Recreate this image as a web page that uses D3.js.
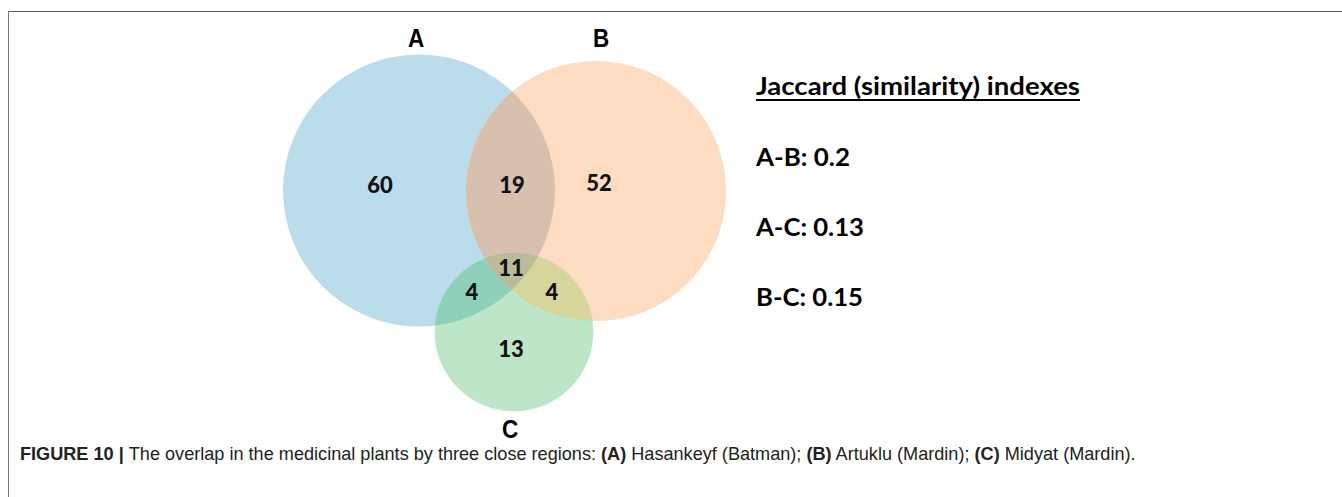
<!DOCTYPE html>
<html>
<head>
<meta charset="utf-8">
<script src="https://cdn.jsdelivr.net/npm/d3@7"></script>
<style>
  html, body { margin: 0; padding: 0; background: #fff; }
  svg { display: block; }
</style>
</head>
<body>
<svg id="chart" width="1342" height="497"></svg>
<script>
// ---- data ----
const setNames = ["A", "B", "C"];
const regionKeys = ["A", "B", "C", "AB", "AC", "BC", "ABC"];
const regionValues = [60, 52, 13, 19, 4, 4, 11];
const jaccardLabels = ["A-B: 0.2", "A-C: 0.13", "B-C: 0.15"];
const titleText = "Jaccard (similarity) indexes";

// ---- derived set totals ----
const regionMap = Object.fromEntries(regionKeys.map((k, i) => [k, regionValues[i]]));
const totals = setNames.map(s => d3.sum(regionKeys.filter(k => k.includes(s)), k => regionMap[k]));

// ---- layout ----
const svg = d3.select("#chart");
const rScale = d3.scaleSqrt().domain([0, d3.max(totals)]).range([0, 136]);
const centers = { A: [419, 190.5], B: [596, 191], C: [514, 332] };
const baseColors = { A: "#bbdcea", B: "#fedcc2", C: "#bde6c9" };
const overlapColors = { AB: "#d7c0ae", AC: "#8fd0ba", BC: "#d6d59c", ABC: "#b9bb99" };
const circles = setNames.map((s, i) => ({ key: s, cx: centers[s][0], cy: centers[s][1], r: rScale(totals[i]) }));
const byKey = Object.fromEntries(circles.map(c => [c.key, c]));

// frame
svg.append("line").attr("x1", 8).attr("x2", 1342).attr("y1", 11.5).attr("y2", 11.5)
  .attr("stroke", "#555").attr("stroke-width", 1.2);
svg.append("line").attr("x1", 8.5).attr("x2", 8.5).attr("y1", 11).attr("y2", 497)
  .attr("stroke", "#777").attr("stroke-width", 1);

const defs = svg.append("defs");
circles.forEach(c => {
  defs.append("clipPath").attr("id", "clip" + c.key)
    .append("circle").attr("cx", c.cx).attr("cy", c.cy).attr("r", c.r);
});

const g = svg.append("g");
g.selectAll("circle.base").data(circles).join("circle")
  .attr("class", "base")
  .attr("cx", d => d.cx).attr("cy", d => d.cy).attr("r", d => d.r)
  .attr("fill", d => baseColors[d.key]);

function overlap(drawKey, clipKeys, color) {
  let parent = g;
  clipKeys.forEach(k => { parent = parent.append("g").attr("clip-path", `url(#clip${k})`); });
  const c = byKey[drawKey];
  parent.append("circle").attr("cx", c.cx).attr("cy", c.cy).attr("r", c.r).attr("fill", color);
}
overlap("B", ["A"], overlapColors.AB);
overlap("C", ["A"], overlapColors.AC);
overlap("C", ["B"], overlapColors.BC);
overlap("C", ["A", "B"], overlapColors.ABC);

// region labels
const labelPos = { A: [380, 184], B: [599, 182], C: [511, 348], AB: [512, 184], AC: [472, 291], BC: [552, 291], ABC: [511, 267] };
g.selectAll("text.val").data(regionKeys).join("text")
  .attr("class", "val")
  .attr("x", k => labelPos[k][0]).attr("y", k => labelPos[k][1])
  .attr("text-anchor", "middle").attr("dominant-baseline", "central")
  .attr("font-family", "Lato, 'Open Sans', sans-serif").attr("font-weight", 900)
  .attr("font-size", 22).attr("fill", "#111")
  .text(k => regionMap[k]);

// set name labels
const namePos = { A: [416, 47], B: [601, 47], C: [510, 438] };
svg.selectAll("text.name").data(setNames).join("text")
  .attr("class", "name")
  .attr("transform", s => `translate(${namePos[s][0]},${namePos[s][1]}) scale(0.9,1)`)
  .attr("text-anchor", "middle")
  .attr("font-family", "'Liberation Sans', Arial, sans-serif").attr("font-weight", 700)
  .attr("font-size", 25).attr("fill", "#000")
  .text(s => s);

// Jaccard block
function fitText(sel, target) {
  sel.attr("textLength", target).attr("lengthAdjust", "spacingAndGlyphs");
}
const title = svg.append("text").attr("x", 756).attr("y", 95)
  .attr("font-family", "Lato, 'Open Sans', sans-serif").attr("font-weight", 700)
  .attr("font-size", 25).attr("fill", "#000").text(titleText);
fitText(title, 324);
svg.append("line").attr("x1", 756).attr("x2", 1080).attr("y1", 100).attr("y2", 100)
  .attr("stroke", "#000").attr("stroke-width", 2);

const jWidths = [94, 108, 107];
const jY = [166, 236, 306];
jaccardLabels.forEach((t, i) => {
  const s = svg.append("text").attr("x", 756).attr("y", jY[i])
    .attr("font-family", "Lato, 'Open Sans', sans-serif").attr("font-weight", 700)
    .attr("font-size", 25).attr("fill", "#000").text(t);
  fitText(s, jWidths[i]);
});

// caption
const cap = svg.append("text").attr("x", 0).attr("y", 0)
  .attr("font-family", "'Liberation Sans', Arial, sans-serif").attr("font-size", 18).attr("fill", "#222");
const parts = [
  ["FIGURE 10 | ", 700], ["The overlap in the medicinal plants by three close regions: ", 400],
  ["(A)", 700], [" Hasankeyf (Batman); ", 400], ["(B)", 700], [" Artuklu (Mardin); ", 400],
  ["(C)", 700], [" Midyat (Mardin).", 400]
];
parts.forEach(([t, w]) => cap.append("tspan").attr("font-weight", w).text(t));
const capW = cap.node().getComputedTextLength();
const sx = 1117 / capW;
cap.attr("transform", `translate(20,460) scale(${sx},1)`);
</script>
</body>
</html>
